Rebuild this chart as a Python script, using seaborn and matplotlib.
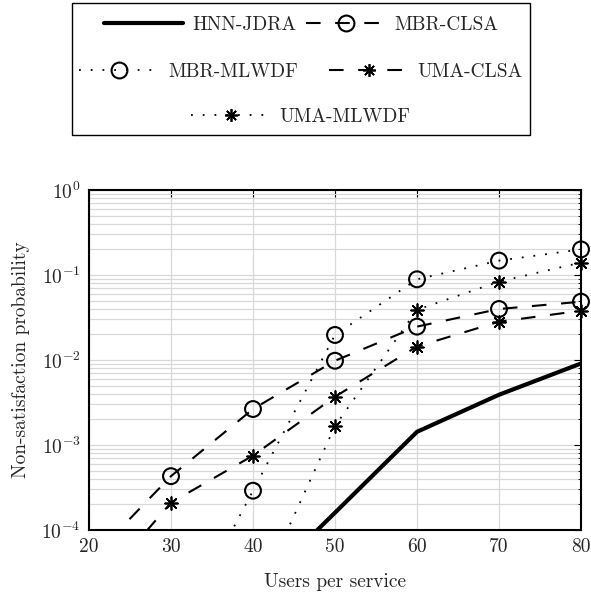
import matplotlib
matplotlib.use("Agg")
import matplotlib.pyplot as plt
from matplotlib.lines import Line2D
from matplotlib.patches import Rectangle
import pandas as pd
import seaborn as sns

# Non-satisfaction probability versus users per service
hnn_jdra_x = [40, 50, 60, 70, 80]
hnn_jdra_y = [1.8e-5, 1.6e-4, 1.43e-3, 3.9e-3, 9.1e-3]

mbr_clsa_x = [20, 30, 40, 50, 60, 70, 80]
mbr_clsa_y = [4.3e-5, 4.3e-4, 2.65e-3, 9.8e-3, 0.0247, 0.0398, 0.0485]

mbr_mlwdf_x = [30, 40, 50, 60, 70, 80]
mbr_mlwdf_y = [4.3e-6, 2.9e-4, 0.0197, 0.089, 0.1476, 0.2]

uma_clsa_x = [20, 30, 40, 50, 60, 70, 80]
uma_clsa_y = [1.6e-5, 2.1e-4, 7.5e-4, 3.7e-3, 0.0144, 0.0282, 0.038]

uma_mlwdf_x = [40, 50, 60, 70, 80]
uma_mlwdf_y = [1.3e-5, 1.67e-3, 0.039, 0.0836, 0.14]

x_ticks = [20, 30, 40, 50, 60, 70, 80]
y_min, y_max = 1e-4, 1e0

sns.set_theme(style="white")
plt.rcParams["font.family"] = ["cmr10", "DejaVu Serif"]
plt.rcParams["mathtext.fontset"] = "cm"
plt.rcParams["axes.formatter.use_mathtext"] = True

FS = 14
DASH = (0, (7, 7))
DOT = (0, (1, 5.5))
STAR = (8, 2, 0)

fig = plt.figure(figsize=(5.91, 5.98), dpi=100)
ax = fig.add_axes([89 / 591, 68 / 598, 492 / 591, 340 / 598])

series = [
    ("HNN-JDRA", hnn_jdra_x, hnn_jdra_y, "-", 3.0, None),
    ("MBR-CLSA", mbr_clsa_x, mbr_clsa_y, DASH, 1.5, "circle"),
    ("MBR-MLWDF", mbr_mlwdf_x, mbr_mlwdf_y, DOT, 1.3, "circle"),
    ("UMA-CLSA", uma_clsa_x, uma_clsa_y, DASH, 1.5, "star"),
    ("UMA-MLWDF", uma_mlwdf_x, uma_mlwdf_y, DOT, 1.3, "star"),
]

for name, xs, ys, ls, lw, mk in series:
    df = pd.DataFrame({"x": xs, "y": ys})
    sns.lineplot(data=df, x="x", y="y", ax=ax, color="black", linewidth=lw,
                 linestyle=ls, legend=False, zorder=3)
    if mk is None:
        continue
    shown = df[df["y"] >= y_min]
    if mk == "circle":
        sns.scatterplot(data=shown, x="x", y="y", ax=ax, marker="o", s=130,
                        facecolor="none", edgecolor="black", linewidth=1.5,
                        legend=False, zorder=4, clip_on=False)
    else:
        sns.scatterplot(data=shown, x="x", y="y", ax=ax, marker=STAR, s=85,
                        color="black", linewidth=1.25, legend=False,
                        zorder=4, clip_on=False)

ax.set_yscale("log")
ax.set_xlim(20, 80)
ax.set_ylim(y_min, y_max)
ax.set_xticks(x_ticks)
ax.set_xticklabels([str(t) for t in x_ticks])

ax.grid(True, which="major", color="#d8d8d8", linewidth=0.9)
ax.grid(True, which="minor", axis="y", color="#d8d8d8", linewidth=0.9)
ax.set_axisbelow(True)
ax.tick_params(which="both", direction="in", top=True, right=True,
               labelsize=FS, color="black")
ax.tick_params(which="major", length=5, width=0.8, pad=6)
ax.tick_params(which="minor", length=2.5, width=0.6)
for sp in ax.spines.values():
    sp.set_color("black")
    sp.set_linewidth(1.5)

ax.set_xlabel("Users per service", fontsize=FS, labelpad=12)
ax.set_ylabel("Non-satisfaction probability", fontsize=FS, labelpad=8)

# Legend: three centred rows inside a single framed box
def handle(ls, lw, mk):
    if mk == "circle":
        return Line2D([], [], color="black", linestyle=ls, linewidth=lw,
                      marker="o", markersize=11.4, markerfacecolor="none",
                      markeredgewidth=1.5)
    if mk == "star":
        return Line2D([], [], color="black", linestyle=ls, linewidth=lw,
                      marker=STAR, markersize=9.2, markeredgewidth=1.25)
    return Line2D([], [], color="black", linestyle=ls, linewidth=lw)

h = {name: handle(ls, lw, mk) for name, _, _, ls, lw, mk in series}

rows = [
    (["HNN-JDRA", "MBR-CLSA"], 25, 0.5),
    (["MBR-MLWDF", "UMA-CLSA"], 72, 1.6),
    (["UMA-MLWDF"], 117, 0.5),
]
for names, ypx, colsp in rows:
    fig.legend([h[n] for n in names], names, loc="center",
               bbox_to_anchor=(301 / 591, 1 - ypx / 598),
               ncol=len(names), frameon=False, fontsize=FS,
               handlelength=4.1, handletextpad=0.45,
               columnspacing=colsp, borderpad=0, borderaxespad=0)

fig.add_artist(Rectangle((72 / 591, 1 - 135 / 598), 458 / 591, 132 / 598,
                         transform=fig.transFigure, fill=False,
                         edgecolor="black", linewidth=1.0))

fig.savefig("out.png", dpi=100)
